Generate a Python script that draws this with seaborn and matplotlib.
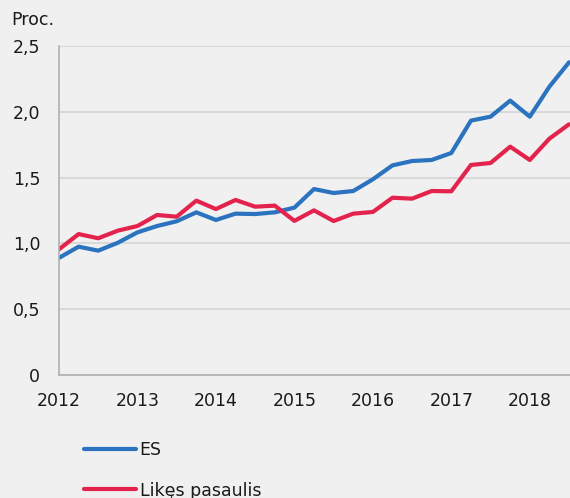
import matplotlib
matplotlib.use("Agg")
import matplotlib.pyplot as plt
import seaborn as sns
import pandas as pd
import numpy as np

years = ["2012", "2013", "2014", "2015", "2016", "2017", "2018"]
quarters = list(range(27))  # 2012Q1 .. 2018Q3
es = [0.89, 0.975, 0.945, 1.005, 1.084, 1.132, 1.168, 1.236, 1.178, 1.226,
      1.223, 1.236, 1.272, 1.413, 1.383, 1.398, 1.487, 1.593, 1.626, 1.634,
      1.687, 1.933, 1.963, 2.085, 1.963, 2.191, 2.376]
world = [0.955, 1.071, 1.039, 1.097, 1.132, 1.216, 1.203, 1.325, 1.261, 1.330,
         1.279, 1.287, 1.171, 1.251, 1.170, 1.226, 1.239, 1.347, 1.340, 1.398,
         1.396, 1.596, 1.611, 1.735, 1.634, 1.796, 1.905]
series_names = ["ES", "Likęs pasaulis"]
yticks = [0, 0.5, 1.0, 1.5, 2.0, 2.5]
ytick_labels = ["0", "0,5", "1,0", "1,5", "2,0", "2,5"]

df = pd.DataFrame({
    "q": quarters * 2,
    "v": es + world,
    "s": [series_names[0]] * len(es) + [series_names[1]] * len(world),
})

sns.set_theme(style="white")
plt.rcParams["font.family"] = ["DejaVu Sans"]
bg = "#f0f0f0"
fig = plt.figure(figsize=(5.70, 4.98), dpi=100, facecolor=bg)
ax = fig.add_axes([59 / 570, 1 - 375 / 498, 1 - 59 / 570, (375 - 46) / 498])
ax.set_facecolor(bg)

palette = {series_names[0]: "#2b73bf", series_names[1]: "#e4234d"}
sns.lineplot(data=df, x="q", y="v", hue="s", palette=palette, linewidth=3,
             ax=ax, legend=False)

ax.set_xlim(0, 26.05)
ax.set_ylim(0, 2.5)
ax.set_yticks(yticks)
ax.set_yticklabels(ytick_labels)
ax.set_xticks([i * 4 for i in range(len(years))])
ax.set_xticklabels(years)
ax.tick_params(axis="both", length=0, labelsize=12.5, colors="#1a1a1a")
ax.tick_params(axis="y", pad=13.5)
ax.tick_params(axis="x", pad=12)
ax.grid(axis="y", color="#d9d9d9", linewidth=1.5, zorder=0)
ax.set_axisbelow(True)
for side in ["top", "right"]:
    ax.spines[side].set_visible(False)
for side in ["left", "bottom"]:
    ax.spines[side].set_color("#b0b0b0")
    ax.spines[side].set_linewidth(1.2)
ax.set_xlabel("")
ax.set_ylabel("")

fig.text(11 / 570, 1 - 20 / 498, "Proc.", fontsize=12.5, color="#1a1a1a",
         va="center", ha="left")

from matplotlib.lines import Line2D
handles = [Line2D([0], [0], color=palette[n], linewidth=3) for n in series_names]
leg = fig.legend(handles, series_names, loc="upper left",
                 bbox_to_anchor=(84 / 570, 1 - 441 / 498), frameon=False,
                 fontsize=12.5, handlelength=3.0, handletextpad=0.2,
                 labelspacing=1.3, borderpad=0, borderaxespad=0)
for t in leg.get_texts():
    t.set_color("#1a1a1a")

fig.savefig("out.png", dpi=100, facecolor=bg)
